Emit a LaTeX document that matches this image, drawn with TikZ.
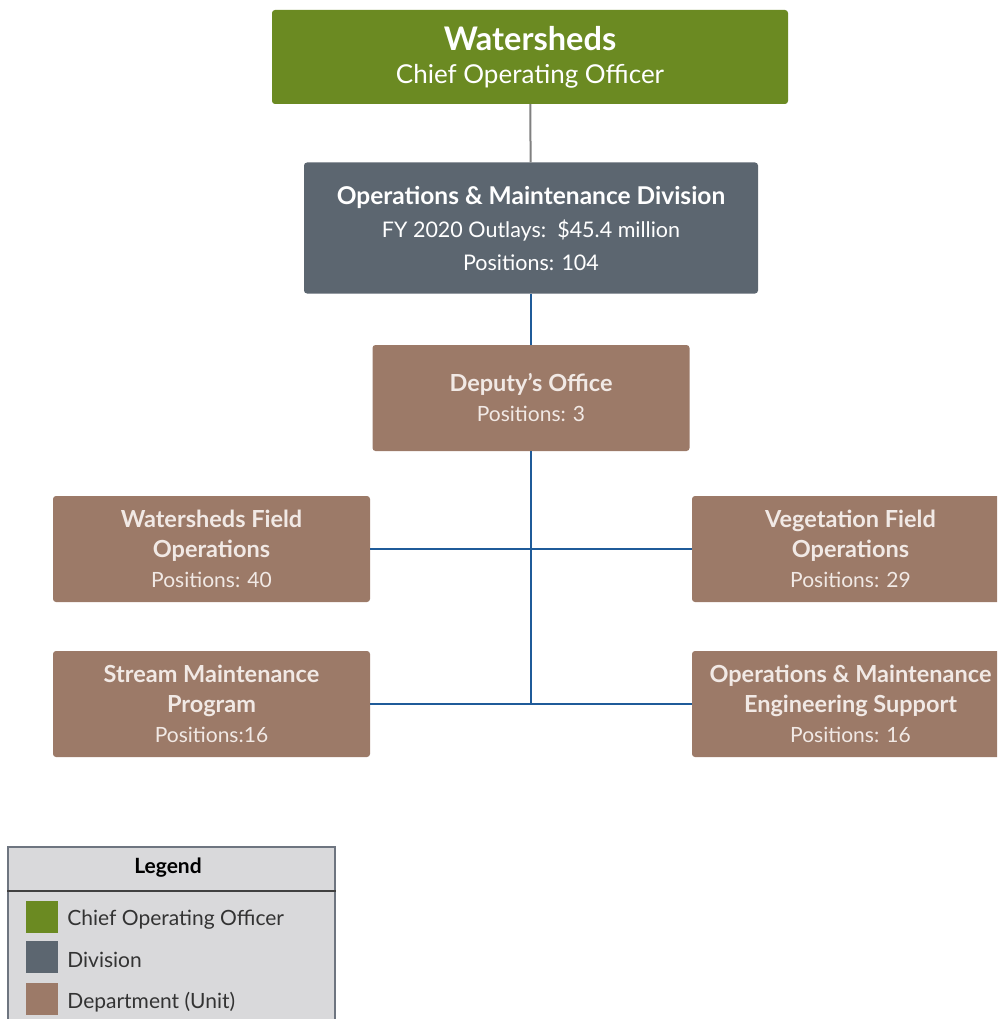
\documentclass[tikz,border=0pt]{standalone}
\usepackage{fontspec}
\setmainfont{Lato}
\usetikzlibrary{positioning}
\definecolor{cooGreen}{HTML}{6B8A22}
\definecolor{divSlate}{HTML}{5C6670}
\definecolor{unitBrown}{HTML}{9C7A68}
\definecolor{linkBlue}{HTML}{1F5B99}
\definecolor{linkGray}{HTML}{808080}
\definecolor{unitText}{HTML}{F1E9E5}
\definecolor{legendFill}{HTML}{D9D9DB}
\definecolor{legendEdge}{HTML}{6E7580}
\tikzset{
    box/.style={rectangle, rounded corners=3pt, align=center, inner sep=0pt}, % shared look of every box
    coobox/.style={box, fill=cooGreen, text=white, minimum width=516pt, minimum height=94pt},
    divbox/.style={box, fill=divSlate, text=white, minimum width=454pt, minimum height=131pt},
    unitbox/.style={box, fill=unitBrown, text=unitText, minimum width=317pt, minimum height=106pt,
        font=\fontsize{21}{30}\selectfont}, % departments
    swatch/.style={rectangle, minimum size=32pt, inner sep=0pt}, % legend colour squares
}
\tikzstyle{bluelink} = [linkBlue, line width=2.2pt]
\tikzstyle{graylink} = [linkGray, line width=2pt]
\newcommand{\unithead}[1]{{\bfseries\fontsize{23.5}{30}\selectfont #1}}

\begin{document}
\begin{tikzpicture}[x=1pt, y=-1pt]
    \useasboundingbox (0,0) rectangle (997,1019);
    \clip (0,0) rectangle (997,1019);

    % top of the chart
    \node[coobox, font=\fontsize{26}{33}\selectfont] (coo) at (530,57)
        {{\bfseries\fontsize{32.5}{33}\selectfont Watersheds}\\Chief Operating Officer};
    \node[divbox, font=\fontsize{21.5}{33}\selectfont] (div) at (531,228)
        {{\bfseries\fontsize{24.5}{33}\selectfont Operations \& Maintenance Division}\\
         FY 2020 Outlays:\ \ \$45.4 million\\Positions: 104};
    \node[unitbox] (dep) at (531,398) {\unithead{Deputy's Office}\\Positions: 3};

    % departments
    \node[unitbox] (wfo) at (211.5,549) {\unithead{Watersheds Field}\\\unithead{Operations}\\Positions: 40};
    \node[unitbox] (vfo) at (850.5,549) {\unithead{Vegetation Field}\\\unithead{Operations}\\Positions: 29};
    \node[unitbox] (smp) at (211.5,704) {\unithead{Stream Maintenance}\\\unithead{Program}\\Positions:16};
    \node[unitbox] (oms) at (850.5,704) {\unithead{Operations \& Maintenance}\\\unithead{Engineering Support}\\Positions: 16};

    \coordinate (trunk) at (dep.south |- smp.east);
    \draw[graylink] (coo) -- (div);
    \draw[bluelink] (div) -- (dep);
    \draw[bluelink] (dep) -- (trunk);
    \draw[bluelink] (wfo) -- (vfo);
    \draw[bluelink] (smp) -- (oms);

    % legend
    \node[rectangle, draw=legendEdge, fill=legendFill, line width=1.5pt, anchor=north west,
        minimum width=327pt, minimum height=200pt] (legend) at (7,846) {};
    \node[font=\bfseries\fontsize{21}{24}\selectfont] (legtitle) at (168,868) {Legend};
    \draw[black!75, line width=1.5pt] (legend.west |- 0,891) -- (legend.east |- 0,891);
    \node[swatch, fill=cooGreen] (sw1) at (42,917) {};
    \node[swatch, fill=divSlate, below=8pt of sw1] (sw2) {};
    \node[swatch, fill=unitBrown, below=9pt of sw2] (sw3) {};
    \foreach \sw/\txt in {sw1/Chief Operating Officer, sw2/Division, sw3/Department (Unit)}
        \node[anchor=west, text=black!80, font=\fontsize{21}{24}\selectfont, inner sep=0pt]
            at ([xshift=9pt, yshift=-3pt]\sw.east) {\txt};
\end{tikzpicture}
\end{document}
